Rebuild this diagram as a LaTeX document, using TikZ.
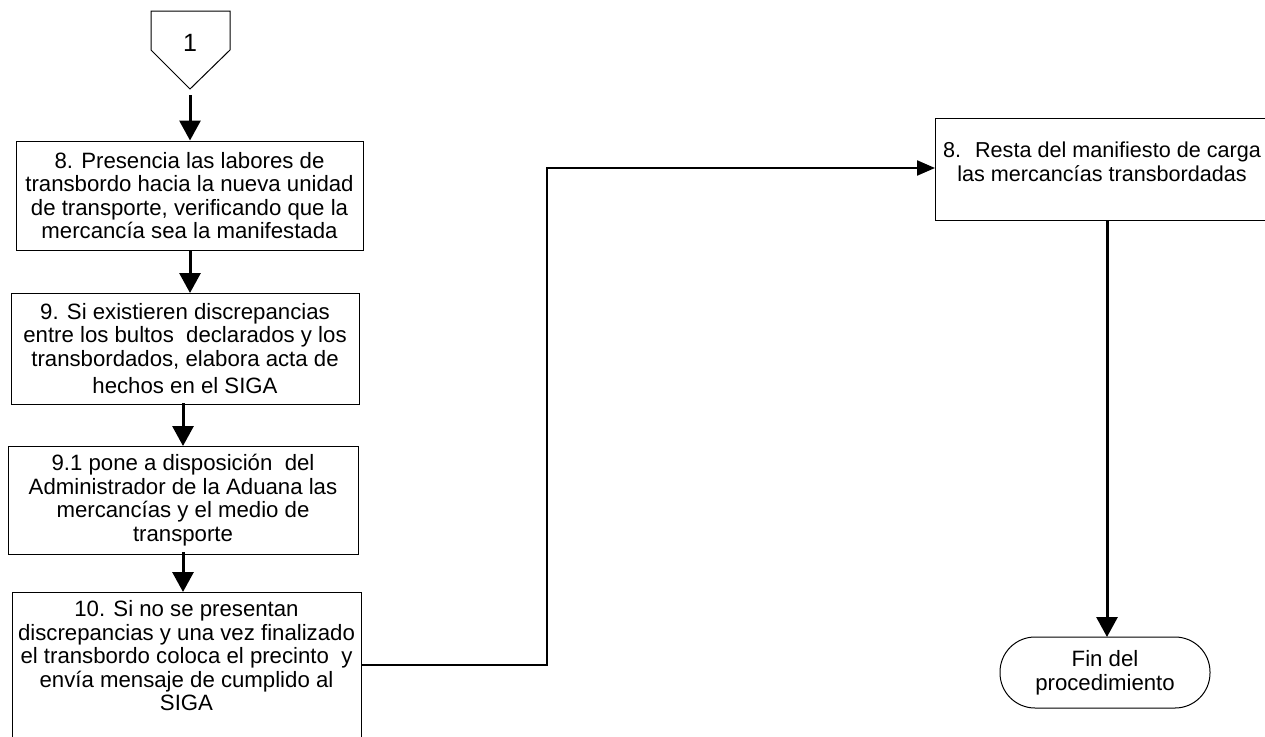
\documentclass[tikz,border=0pt]{standalone}
\usepackage{fontspec}
\setmainfont{Liberation Sans}
\usetikzlibrary{arrows.meta}
\begin{document}
\begin{tikzpicture}[x=1pt,y=-1pt,
  box/.style={draw=black, line width=1pt, inner sep=0pt, align=center, font=\fontsize{22.2}{23.5}\selectfont},
  txt/.style={inner sep=0pt, align=center, font=\fontsize{22.2}{23.5}\selectfont},
  flow/.style={line width=3pt, -{Triangle[length=20pt,width=21pt]}},
  link/.style={line width=2.2pt, -{Triangle[length=18pt,width=15pt]}}]
\useasboundingbox (0,0) rectangle (1265,736);
\clip (0,0) rectangle (1265,736);
% off-page connector
\draw[line width=1pt] (151,11) -- (230,11) -- (230,50) -- (190,89) -- (151,50) -- cycle;
\coordinate (c1p) at (190,95);
\node[txt, font=\fontsize{25}{26}\selectfont] (c1) at (190,43) {1};
% boxes
\node[box, minimum width=347pt, minimum height=109pt] (b1) at (189.5,195.5)
  {8. Presencia las labores de\\transbordo hacia la nueva unidad\\de transporte, verificando que la\\mercancía sea la manifestada};
\node[box, minimum width=348pt, minimum height=111pt] (b2) at (185,348.5)
  {9. Si existieren discrepancias\\entre los bultos~ declarados y los\\transbordados, elabora acta de\\[4pt]hechos en el SIGA};
\node[box, minimum width=350pt, minimum height=108pt] (b3) at (183,500)
  {9.1 pone a disposición~ del\\Administrador de la Aduana las\\mercancías y el medio de\\transporte};
\node[box, minimum width=349pt, minimum height=170pt, anchor=north] (b4) at (186.5,592) {};
\node[txt] (b4t) at (186.5,656)
  {10. Si no se presentan\\discrepancias y una vez finalizado\\el transbordo coloca el precinto~ y\\envía mensaje de cumplido al\\SIGA};
\node[box, minimum width=340pt, minimum height=102pt, anchor=north west] (b5) at (935,118) {};
\node[txt, font=\fontsize{21.6}{23.5}\selectfont] (b5t) at (1102,162)
  {8.~ Resta del manifiesto de carga\\las mercancías transbordadas};
\node[box, rounded corners=35pt, minimum width=210pt, minimum height=71pt] (fin) at (1105,672.5)
  {Fin del\\procedimiento};
% connectors
\draw[flow] (c1p) -- (c1p |- b1.north);
\draw[flow] (190,250) -- (190,293);
\draw[flow] (183,403) -- (183,446);
\draw[flow] (183,552) -- (183,592);
\coordinate (bend1) at (547,665);
\coordinate (bend2) at (547,168);
\draw[link] (361,665) -- (bend1) -- (bend2) -- (935,168);
\draw[flow] (1107,220) -- (1107,637);
\end{tikzpicture}
\end{document}
